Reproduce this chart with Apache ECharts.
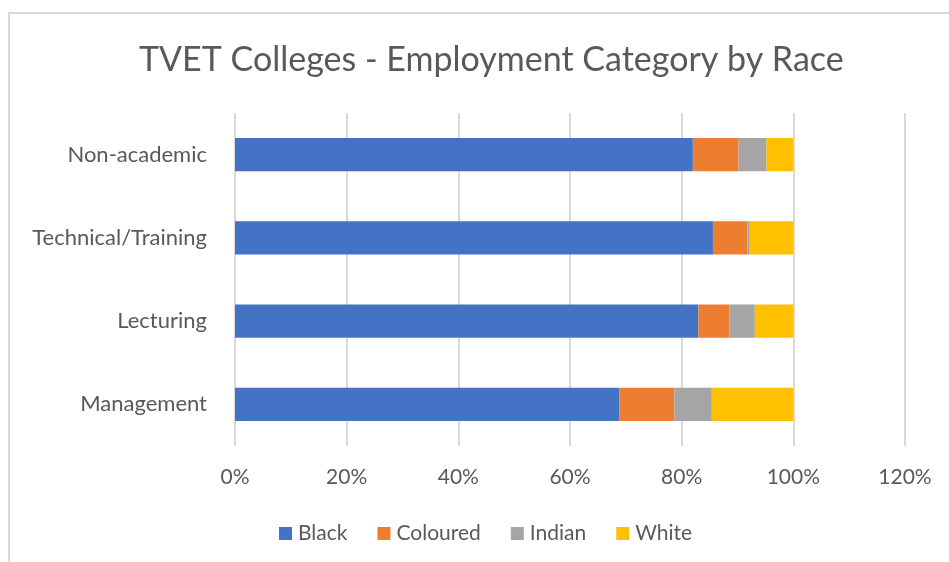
<!DOCTYPE html>
<html>
<head>
<meta charset="utf-8">
<script src="https://cdn.jsdelivr.net/npm/echarts@6/dist/echarts.min.js"></script>
<style>
  html, body { margin: 0; padding: 0; background: #fff; }
  #chart { width: 949px; height: 562px; }
</style>
</head>
<body>
<div id="chart"></div>
<script>
// Employment categories, bottom to top
const categories = ['Management', 'Lecturing', 'Technical/Training', 'Non-academic'];

// Share of staff per race (fractions of 1)
const black    = [0.688, 0.830, 0.856, 0.820];
const coloured = [0.099, 0.056, 0.062, 0.082];
const indian   = [0.067, 0.045, 0.004, 0.050];
const white    = [0.146, 0.069, 0.078, 0.048];

const xTicks = [0, 0.2, 0.4, 0.6, 0.8, 1.0, 1.2];

const seriesDefs = [
  { name: 'Black', data: black, color: '#4472C4' },
  { name: 'Coloured', data: coloured, color: '#ED7D31' },
  { name: 'Indian', data: indian, color: '#A5A5A5' },
  { name: 'White', data: white, color: '#FFC000' }
];

const font = 'Lato, "Open Sans", sans-serif';
const textColor = '#595959';

const chart = echarts.init(document.getElementById('chart'));
chart.setOption({
  animation: false,
  backgroundColor: '#ffffff',
  title: {
    text: 'TVET Colleges - Employment Category by Race',
    left: 134,
    top: 38,
    textStyle: { fontFamily: font, fontSize: 34, fontWeight: 'normal', color: textColor }
  },
  graphic: [{
    type: 'rect',
    shape: { x: 9, y: 13, width: 960, height: 570 },
    style: { fill: 'none', stroke: '#d9d9d9', lineWidth: 2 },
    silent: true
  }],
  legend: {
    data: seriesDefs.map(s => s.name),
    left: 274,
    top: 518,
    icon: 'rect',
    itemWidth: 13,
    itemHeight: 13,
    itemGap: 30,
    textStyle: { fontFamily: font, fontSize: 21, color: textColor, padding: [0, 0, 0, 1] }
  },
  grid: { left: 235, right: 44, top: 113, bottom: 116 },
  xAxis: {
    type: 'value',
    min: xTicks[0],
    max: xTicks[xTicks.length - 1],
    interval: 0.2,
    axisLine: { show: false },
    axisTick: { show: false },
    splitLine: { lineStyle: { color: '#d9d9d9', width: 2 } },
    axisLabel: {
      margin: 21,
      fontFamily: font,
      fontSize: 21,
      color: textColor,
      formatter: v => Math.round(v * 100) + '%'
    }
  },
  yAxis: {
    type: 'category',
    data: categories,
    axisLine: { show: false },
    axisTick: { show: false },
    axisLabel: { margin: 28, fontFamily: font, fontSize: 22, color: textColor }
  },
  series: seriesDefs.map(s => ({
    name: s.name,
    type: 'bar',
    stack: 'total',
    data: s.data,
    barCategoryGap: '60%',
    itemStyle: { color: s.color }
  }))
});
</script>
</body>
</html>
